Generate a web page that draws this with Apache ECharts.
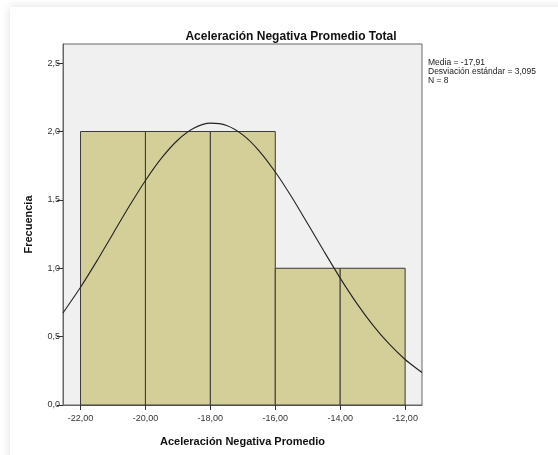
<!DOCTYPE html>
<html>
<head>
<meta charset="utf-8">
<script src="https://cdn.jsdelivr.net/npm/echarts@6/dist/echarts.min.js"></script>
<style>
  html, body { margin: 0; padding: 0; background: #fff; overflow: hidden; }
  #frame {
    position: absolute; left: 10px; top: 7px; width: 620px; height: 520px;
    background: #fff; box-shadow: 0 0 9px rgba(0, 0, 0, 0.14);
  }
  #main { position: absolute; left: 0; top: 0; width: 558px; height: 455px; }
</style>
</head>
<body>
<div id="frame"></div>
<div id="main"></div>
<script>
// bins of the histogram
const binEdges = [-22, -20, -18, -16, -14, -12];
const binCounts = [2, 2, 2, 1, 1];
// normal curve
const curveX = [-22.54, -22.5, -22, -21.5, -21, -20.5, -20, -19.5, -19, -18.5, -18, -17.5, -17,
  -16.5, -16, -15.5, -15, -14.5, -14, -13.5, -13, -12.5, -12, -11.5, -11.48];
const curveY = [0.673, 0.687, 0.861, 1.052, 1.253, 1.453, 1.642, 1.807, 1.938, 2.025, 2.061, 2.044, 1.975,
  1.859, 1.704, 1.523, 1.325, 1.124, 0.928, 0.747, 0.586, 0.448, 0.333, 0.241, 0.238];
const xTicks = [-22, -20, -18, -16, -14, -12];
const yTicks = [0, 0.5, 1, 1.5, 2, 2.5];
const statsLines = ["Media = -17,91", "Desviación estándar = 3,095", "N = 8"];

const fam = "'Liberation Sans', Arial, sans-serif";
const bars = binCounts.map((c, i) => [binEdges[i], binEdges[i + 1], c]);
const curve = curveX.map((x, i) => [x, curveY[i]]);

let myChart = echarts.init(document.getElementById("main"));
const option = {
  backgroundColor: "transparent",
  animation: false,
  title: {
    text: "Aceleración Negativa Promedio Total",
    left: 286,
    top: 26,
    textAlign: "center",
    textStyle: { fontFamily: fam, fontSize: 12, fontWeight: "bold", color: "#111" },
  },
  grid: {
    left: 63,
    top: 44,
    right: 136,
    bottom: 50,
    show: true,
    backgroundColor: "#f0f0f0",
    borderColor: "#666",
    borderWidth: 1,
  },
  xAxis: {
    type: "value",
    min: -22.54,
    max: -11.48,
    name: "Aceleración Negativa Promedio",
    nameLocation: "center",
    nameGap: 31,
    nameTextStyle: { fontFamily: fam, fontSize: 11, fontWeight: "bold", color: "#111" },
    axisLine: { show: true, onZero: false, lineStyle: { color: "#666" } },
    axisTick: { show: true, length: 5, customValues: xTicks, lineStyle: { color: "#333" } },
    axisLabel: {
      customValues: xTicks,
      margin: 9,
      fontFamily: fam,
      fontSize: 9,
      color: "#333",
      formatter: (v) => v.toFixed(2).replace(".", ","),
    },
    splitLine: { show: false },
  },
  yAxis: {
    type: "value",
    min: 0,
    max: 2.64,
    name: "Frecuencia",
    nameLocation: "center",
    nameGap: 29,
    nameRotate: 90,
    nameTextStyle: { fontFamily: fam, fontSize: 11, fontWeight: "bold", color: "#111" },
    axisLine: { show: true, lineStyle: { color: "#666" } },
    axisTick: { show: true, length: 6, customValues: yTicks, lineStyle: { color: "#333" } },
    axisLabel: {
      customValues: yTicks,
      margin: 3,
      fontFamily: fam,
      fontSize: 9,
      color: "#333",
      formatter: (v) => v.toFixed(1).replace(".", ","),
    },
    splitLine: { show: false },
  },
  graphic: statsLines.map((t, i) => ({
    type: "text",
    left: 428,
    top: 58 + i * 9,
    style: { text: t, fontFamily: fam, fontSize: 8.5, fill: "#222" },
  })),
  series: [
    {
      type: "custom",
      data: bars,
      renderItem: function (params, api) {
        const p0 = api.coord([api.value(0), api.value(2)]);
        const p1 = api.coord([api.value(1), 0]);
        return {
          type: "rect",
          shape: { x: p0[0], y: p0[1], width: p1[0] - p0[0], height: p1[1] - p0[1] },
          style: { fill: "#d4cf99", stroke: "#3a3a3a", lineWidth: 1 },
        };
      },
      z: 2,
    },
    {
      type: "line",
      data: curve,
      smooth: 0.3,
      showSymbol: false,
      lineStyle: { color: "#222", width: 1.1 },
      z: 3,
    },
  ],
};
myChart.setOption(option);
</script>
</body>
</html>
